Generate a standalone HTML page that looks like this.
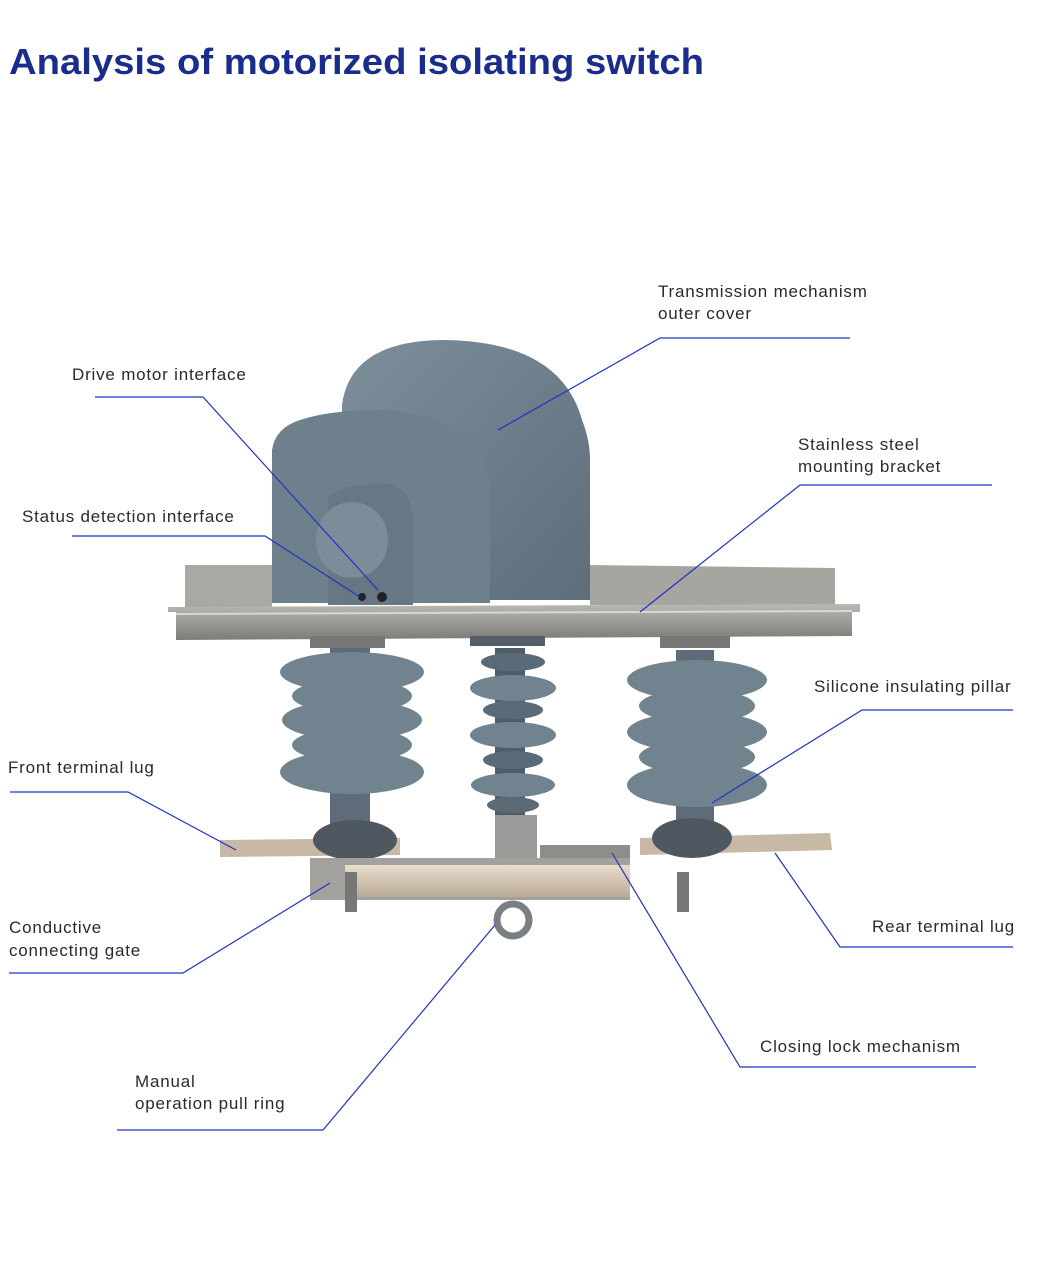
<!DOCTYPE html>
<html><head><meta charset="utf-8"><style>
html,body{margin:0;padding:0;background:#fff;}
svg{display:block}
text{font-family:"Liberation Sans",sans-serif;}
.l{font-size:17px;fill:#2a2a2a;letter-spacing:0.8px}
.c{fill:none;stroke:#1f33c8;stroke-width:1.2}
</style></head><body>
<svg width="1040" height="1265" viewBox="0 0 1040 1265" xmlns="http://www.w3.org/2000/svg">
<defs>
<linearGradient id="rail" x1="0" y1="0" x2="0" y2="1"><stop offset="0" stop-color="#b9b8b3"/><stop offset="0.5" stop-color="#9c9b97"/><stop offset="1" stop-color="#7c7b78"/></linearGradient>
<linearGradient id="hous" x1="0" y1="0" x2="1" y2="1"><stop offset="0" stop-color="#7e8f9c"/><stop offset="1" stop-color="#5d6d7a"/></linearGradient>
<linearGradient id="bar" x1="0" y1="0" x2="0" y2="1"><stop offset="0" stop-color="#e8dccb"/><stop offset="1" stop-color="#b9ab98"/></linearGradient>
</defs>
<text x="9" y="74" font-size="36" font-weight="bold" fill="#1b2d8c" textLength="695" lengthAdjust="spacingAndGlyphs">Analysis of motorized isolating switch</text>

<path d="M185 565 L272 565 L272 607 L185 607 Z" fill="#a9a8a3"/>
<path d="M590 565 L835 568 L835 605 L590 605 Z" fill="#a6a5a0"/>
<path d="M342 405 Q350 342 440 340 Q560 340 582 420 Q590 440 590 460 L590 600 L342 600 Z" fill="url(#hous)"/>
<path d="M272 450 Q275 428 300 420 Q330 410 380 410 Q470 412 490 480 L490 603 L272 603 Z" fill="#6f808d"/>
<path d="M328 497 Q345 482 390 484 Q412 490 413 520 L413 605 L328 605 Z" fill="#677784"/>
<ellipse cx="352" cy="540" rx="36" ry="38" fill="#7c8c99"/>
<circle cx="362" cy="597" r="4" fill="#222"/><circle cx="382" cy="597" r="5" fill="#222"/>
<path d="M168 607 L860 604 L860 612 L852 612 L852 636 L176 640 L176 612 L168 612 Z" fill="url(#rail)"/>
<line x1="176" y1="614" x2="852" y2="611" stroke="#d8d7d2" stroke-width="2"/>
<g fill="#71838f">
<rect x="310" y="636" width="75" height="12" fill="#777"/>
<rect x="470" y="636" width="75" height="10" fill="#555f69"/>
<rect x="660" y="636" width="70" height="12" fill="#777"/>
<rect x="330" y="648" width="40" height="180" fill="#5d6c78"/>
<rect x="676" y="650" width="38" height="180" fill="#5d6c78"/>
<rect x="495" y="648" width="30" height="180" fill="#4e5d69"/>
<ellipse cx="352" cy="672" rx="72" ry="20"/><ellipse cx="352" cy="696" rx="60" ry="17"/><ellipse cx="352" cy="720" rx="70" ry="20"/><ellipse cx="352" cy="745" rx="60" ry="17"/><ellipse cx="352" cy="772" rx="72" ry="22"/>
<ellipse cx="697" cy="680" rx="70" ry="20"/><ellipse cx="697" cy="706" rx="58" ry="17"/><ellipse cx="697" cy="732" rx="70" ry="20"/><ellipse cx="697" cy="757" rx="58" ry="17"/><ellipse cx="697" cy="785" rx="70" ry="22"/>
<ellipse cx="513" cy="662" rx="32" ry="9" fill="#5a6a77"/><ellipse cx="513" cy="688" rx="43" ry="13"/><ellipse cx="513" cy="710" rx="30" ry="9" fill="#5a6a77"/><ellipse cx="513" cy="735" rx="43" ry="13"/><ellipse cx="513" cy="760" rx="30" ry="9" fill="#5a6a77"/><ellipse cx="513" cy="785" rx="42" ry="12"/><ellipse cx="513" cy="805" rx="26" ry="8" fill="#5a6a77"/>
</g>
<path d="M220 840 L400 838 L400 855 L220 857 Z" fill="#c8b8a6"/>
<path d="M640 838 L830 833 L832 850 L640 855 Z" fill="#c8b8a6"/>
<ellipse cx="355" cy="840" rx="42" ry="20" fill="#4f5860"/>
<ellipse cx="692" cy="838" rx="40" ry="20" fill="#4f5860"/>
<rect x="495" y="815" width="42" height="50" fill="#9a9a98"/>
<rect x="540" y="845" width="90" height="22" fill="#8e8d8a"/>
<rect x="310" y="858" width="320" height="42" fill="#a3a19d"/>
<rect x="345" y="865" width="285" height="32" fill="url(#bar)"/>
<rect x="345" y="872" width="12" height="40" fill="#777"/><rect x="677" y="872" width="12" height="40" fill="#777"/>
<circle cx="513" cy="920" r="16" fill="none" stroke="#7a7f83" stroke-width="7"/>

<polyline class="c" points="850,338 660,338 498,430"/>
<polyline class="c" points="95,397 203,397 378,590"/>
<polyline class="c" points="992,485 800,485 640,612"/>
<polyline class="c" points="72,536 265,536 360,597"/>
<polyline class="c" points="1013,710 862,710 712,803"/>
<polyline class="c" points="10,792 128,792 236,850"/>
<polyline class="c" points="9,973 183,973 330,883"/>
<polyline class="c" points="1013,947 840,947 775,853"/>
<polyline class="c" points="976,1067 740,1067 612,853"/>
<polyline class="c" points="117,1130 323,1130 495,925"/>

<text class="l" x="658" y="297">Transmission mechanism</text>
<text class="l" x="658" y="319">outer cover</text>
<text class="l" x="72" y="380">Drive motor interface</text>
<text class="l" x="798" y="450">Stainless steel</text>
<text class="l" x="798" y="472">mounting bracket</text>
<text class="l" x="22" y="522">Status detection interface</text>
<text class="l" x="814" y="692">Silicone insulating pillar</text>
<text class="l" x="8" y="773">Front terminal lug</text>
<text class="l" x="9" y="933">Conductive</text>
<text class="l" x="9" y="956">connecting gate</text>
<text class="l" x="872" y="932">Rear terminal lug</text>
<text class="l" x="760" y="1052">Closing lock mechanism</text>
<text class="l" x="135" y="1087">Manual</text>
<text class="l" x="135" y="1109">operation pull ring</text>
</svg>
</body></html>
